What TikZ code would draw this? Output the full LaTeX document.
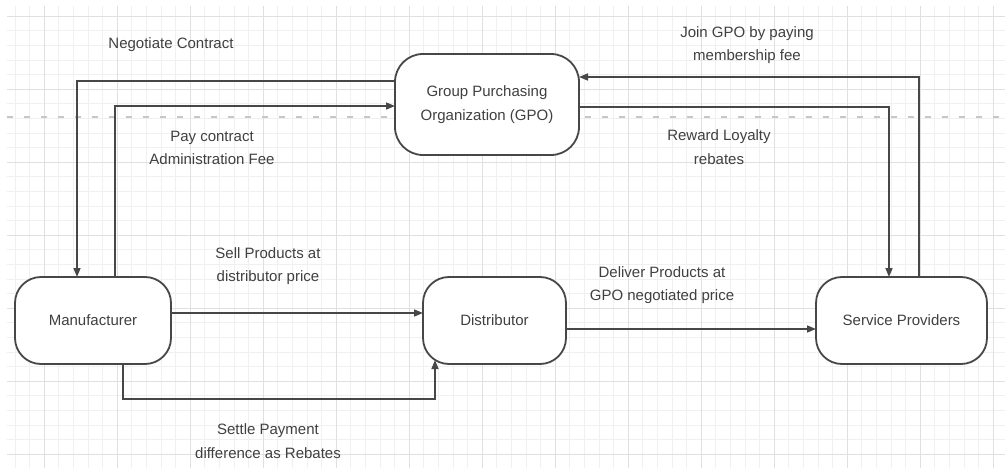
\documentclass[tikz,border=0pt]{standalone}
\usepackage{fontspec}
\setmainfont{Liberation Sans}
\usepackage{tikz}
\usetikzlibrary{arrows.meta}
\tikzset{
	termbox/.style={draw=black!72, line width=1.8pt, fill=white, rectangle, rounded corners=26pt, minimum height=87pt, outer sep=0pt, align=center, text=black!75},
	flowarrow/.style={draw=black!72, line width=1.5pt, -{Triangle[length=9pt,width=7pt]}},
	tag/.style={align=center, text=black!75},
	gridthin/.style={line width=0.5pt, color=black!6},
	gridthick/.style={line width=0.7pt, color=black!12}
}

\begin{document}
\begin{tikzpicture}[x=1pt, y=-1pt, font=\fontsize{15}{23.5}\selectfont]
			%%%%% START %%%%%
			
			\useasboundingbox[fill=white] (0, 0) rectangle (1005, 468);
			
			\foreach \k in {-2,...,66} \draw[gridthin] ({44+14.6*\k}, 6) -- ({44+14.6*\k}, 468);
			\foreach \k in {-5,...,25} \draw[gridthin] (7, {89+14.6*\k}) -- (1005, {89+14.6*\k});
			\foreach \k in {0,...,13} \draw[gridthick] ({44+73*\k}, 6) -- ({44+73*\k}, 468);
			\foreach \k in {-1,...,5} \draw[gridthick] (7, {89+73*\k}) -- (1005, {89+73*\k});
			
			\draw[line width=1.8pt, color=black!22, dash pattern=on 6pt off 11pt] (7, 117) -- (1005, 117);
			
			\node[termbox, minimum width=184pt, minimum height=101pt, rounded corners=28pt] (gpo) at (487, 104.5) {Group Purchasing\\Organization (GPO)};
			\node[termbox, minimum width=156pt] (man) at (93, 320.5) {Manufacturer};
			\node[termbox, minimum width=143pt] (dist) at (494.5, 320.5) {Distributor};
			\node[termbox, minimum width=171pt] (sp) at (901.5, 320.5) {Service Providers};
			
			\draw[flowarrow] ([yshift=23.5pt]gpo.west) -| ([xshift=-16pt]man.north);
			\draw[flowarrow] ([xshift=22pt]man.north) |- ([yshift=-1.5pt]gpo.west);
			\draw[flowarrow] ([xshift=17.5pt]sp.north) |- ([yshift=27.5pt]gpo.east);
			\draw[flowarrow] ([yshift=-2.5pt]gpo.east) -| ([xshift=-12.5pt]sp.north);
			\draw[flowarrow] ([yshift=7.5pt]man.east) -- ([yshift=7.5pt]dist.west);
			\draw[flowarrow] ([yshift=-8.5pt]dist.east) -- ([yshift=-8.5pt]sp.west);
			\draw[flowarrow] ([xshift=30pt]man.south) -- ++(0, 35) -| ([xshift=-59.5pt, yshift=4pt]dist.south);
			
			\node[tag] (negotiate) at (171, 45) {Negotiate Contract};
			\node[tag] (pay) at (212, 148) {Pay contract\\Administration Fee};
			\node[tag] (join) at (747, 45) {Join GPO by paying\\membership fee};
			\node[tag] (reward) at (719, 147) {Reward Loyalty\\rebates};
			\node[tag] (sell) at (268, 266) {Sell Products at\\distributor price};
			\node[tag] (deliver) at (662, 285) {Deliver Products at\\GPO negotiated price};
			\node[tag] (settle) at (268, 441) {Settle Payment\\difference as Rebates};
			
			%%%%% END %%%%%
		\end{tikzpicture}
\end{document}
